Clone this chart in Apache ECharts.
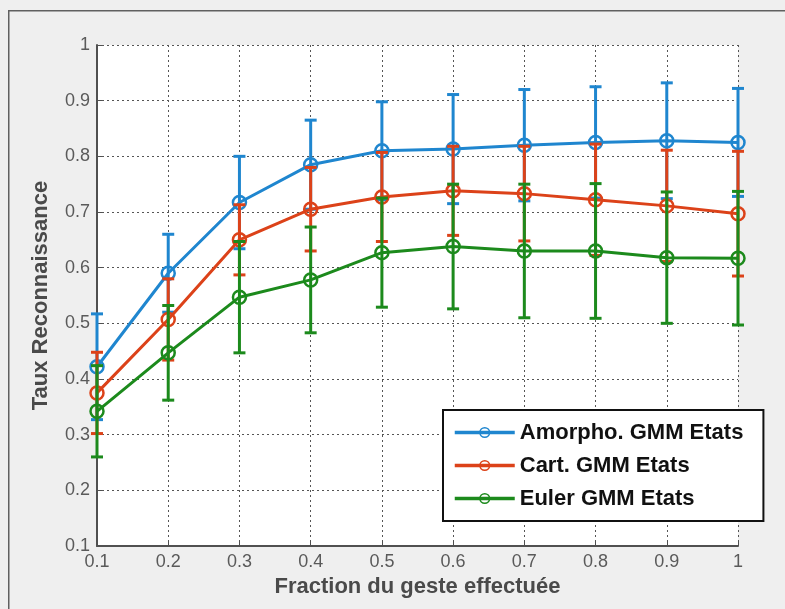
<!DOCTYPE html>
<html><head><meta charset="utf-8">
<script src="https://cdn.jsdelivr.net/npm/echarts@6/dist/echarts.min.js"></script>
<style>html,body{margin:0;padding:0;background:#efefef}#c{width:785px;height:609px}</style>
</head><body><div id="c"></div>
<script>
const xValues = [0.1,0.2,0.3,0.4,0.5,0.6,0.7,0.8,0.9,1.0];
const amorphoMean = [0.422,0.590,0.717,0.785,0.810,0.813,0.820,0.825,0.828,0.825];
const amorphoErr  = [0.095,0.070,0.083,0.080,0.088,0.098,0.100,0.100,0.104,0.097];
const cartMean    = [0.375,0.507,0.650,0.705,0.727,0.738,0.733,0.722,0.711,0.697];
const cartErr     = [0.073,0.073,0.063,0.075,0.080,0.080,0.085,0.100,0.100,0.112];
const eulerMean   = [0.342,0.447,0.547,0.578,0.627,0.638,0.630,0.630,0.618,0.617];
const eulerErr    = [0.082,0.085,0.100,0.095,0.098,0.112,0.120,0.121,0.118,0.120];
const seriesNames = ['Amorpho. GMM Etats','Cart. GMM Etats','Euler GMM Etats'];
const colors = ['#1f86cf','#dc4219','#1c8a1c'];

const font = 'Liberation Sans, Arial, Helvetica, sans-serif';
const chart = echarts.init(document.getElementById('c'));

function errSeries(name, mean, err, color, z){
  return {
    type:'custom', name: name+'_err', z: z, silent:true,
    data: xValues.map((x,i)=>[x, mean[i]-err[i], mean[i]+err[i]]),
    renderItem: function(params, api){
      const x = api.value(0);
      const lo = api.coord([x, api.value(1)]);
      const hi = api.coord([x, api.value(2)]);
      const w = 6;
      const style = {stroke: color, lineWidth: 3, fill:null};
      return {type:'group', children:[
        {type:'line', shape:{x1:lo[0],y1:lo[1],x2:hi[0],y2:hi[1]}, style:style},
        {type:'line', shape:{x1:lo[0]-w,y1:lo[1],x2:lo[0]+w,y2:lo[1]}, style:style},
        {type:'line', shape:{x1:hi[0]-w,y1:hi[1],x2:hi[0]+w,y2:hi[1]}, style:style}
      ]};
    }
  };
}
function lineSeries(name, mean, color, z){
  return {
    type:'line', name:name, z:z,
    data: xValues.map((x,i)=>[x, mean[i]]),
    symbol:'circle', symbolSize:13,
    lineStyle:{color:color, width:3},
    itemStyle:{color:'rgba(255,255,255,0)', borderColor:color, borderWidth:2.5},
    emphasis:{disabled:true}
  };
}

const fmt = v => { const r = Math.round(v*10)/10; return r===1 ? '1' : r.toFixed(1); };

chart.setOption({
  animation:false,
  backgroundColor:'#efefef',
  graphic:[{type:'rect', left:8, top:10, shape:{width:820, height:700}, style:{fill:'#efefef', stroke:'#606060', lineWidth:1.5}, z:-10}],
  grid:{left:97, right:47, top:45, bottom:63, show:true, backgroundColor:'#ffffff', borderWidth:0},
  xAxis:{type:'value', min:0.1, max:1, interval:0.1,
    name:'Fraction du geste effectuée', nameLocation:'middle', nameGap:27,
    nameTextStyle:{fontFamily:font, fontSize:22, fontWeight:'bold', color:'#4a4a4a'},
    axisLine:{show:true, onZero:false, lineStyle:{color:'#505050', width:2}},
    axisTick:{show:true, inside:true, length:5, lineStyle:{color:'#505050'}},
    axisLabel:{formatter:fmt, fontFamily:font, fontSize:18, color:'#5a5a5a', margin:7},
    splitLine:{show:true, lineStyle:{type:[2,3], color:'#555', width:1}}},
  yAxis:{type:'value', min:0.1, max:1, interval:0.1,
    name:'Taux Reconnaissance', nameLocation:'middle', nameGap:45, nameRotate:90,
    nameTextStyle:{fontFamily:font, fontSize:22, fontWeight:'bold', color:'#4a4a4a'},
    axisLine:{show:true, onZero:false, lineStyle:{color:'#505050', width:2}},
    axisTick:{show:true, inside:true, length:5, lineStyle:{color:'#505050'}},
    axisLabel:{formatter:fmt, fontFamily:font, fontSize:18, color:'#5a5a5a', margin:7},
    splitLine:{show:true, lineStyle:{type:[2,3], color:'#555', width:1}}},
  legend:{
    data:seriesNames, orient:'vertical', left:443, top:410,
    backgroundColor:'#ffffff', borderColor:'#111', borderWidth:2,
    padding:[11,20,11,10], itemGap:10, itemWidth:60, itemHeight:12,
    lineStyle:{width:3.5},
    itemStyle:{borderWidth:1.5},
    textStyle:{fontFamily:font, fontSize:22, fontWeight:'bold', color:'#111', lineHeight:23}
  },
  series:[
    errSeries(seriesNames[0], amorphoMean, amorphoErr, colors[0], 1),
    lineSeries(seriesNames[0], amorphoMean, colors[0], 2),
    errSeries(seriesNames[1], cartMean, cartErr, colors[1], 3),
    lineSeries(seriesNames[1], cartMean, colors[1], 4),
    errSeries(seriesNames[2], eulerMean, eulerErr, colors[2], 5),
    lineSeries(seriesNames[2], eulerMean, colors[2], 6)
  ]
});
</script></body></html>
